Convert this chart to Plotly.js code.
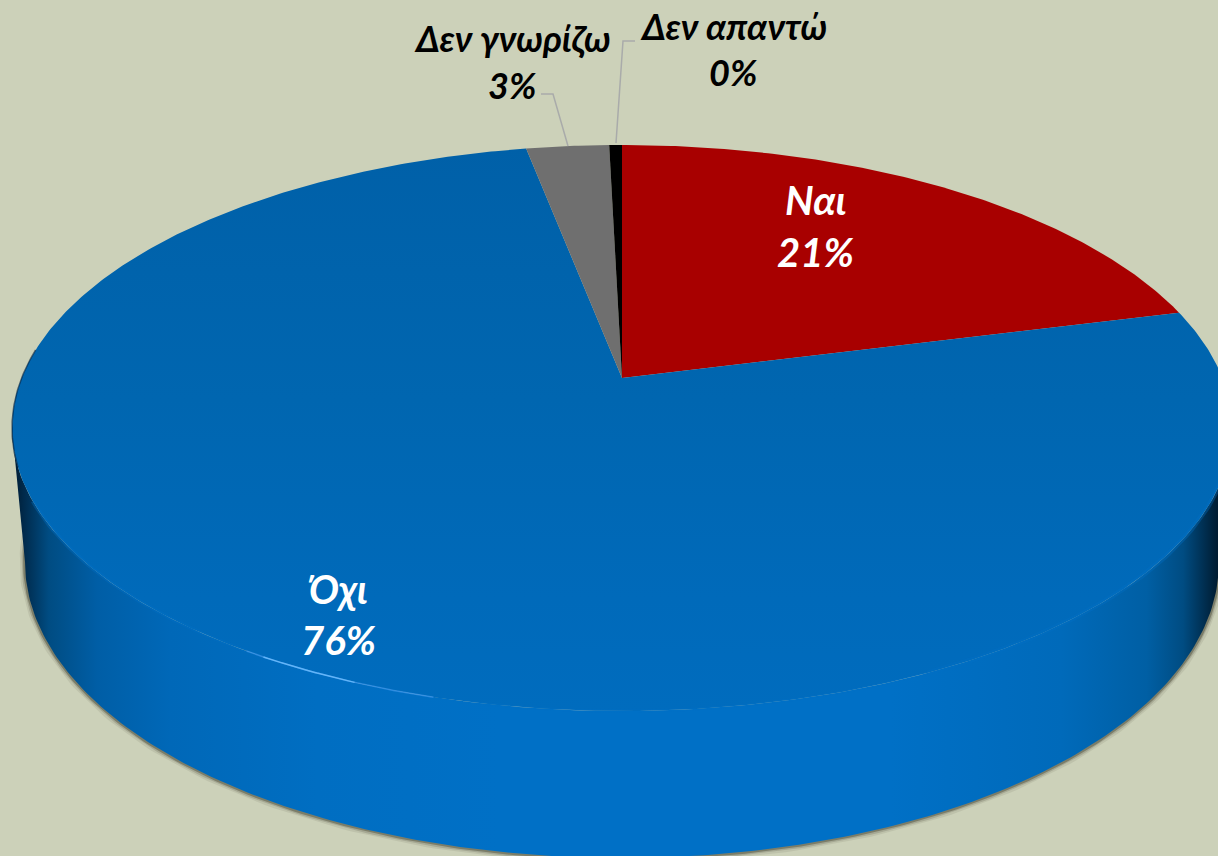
<!DOCTYPE html>
<html><head><meta charset="utf-8">
<script src="https://cdn.plot.ly/plotly-3.0.1.min.js"></script>
<style>html,body{margin:0;padding:0;background:#CCD1B9;overflow:hidden}#c{width:1218px;height:856px}</style>
</head><body><div id="c"></div>
<script>
const categories = ['Ναι', 'Όχι', 'Δεν γνωρίζω', 'Δεν απαντώ'];
const values = [21, 76, 2.6, 0.4];
const percentLabels = ['21%', '76%', '3%', '0%'];
const sliceColors = ['#A80000', null, '#6F6F6F', '#000000'];

const W = 1218, H = 856, BG = '#CCD1B9';
const top3d = {cx: 622, cy: 428, rx: 610, ry: 283};
const base3d = {cx: 622, cy: 562, rx: 597, ry: 296};
const tilt = 50 / 283; // how far the apex sits above the ellipse centre, in radii
const FONT = 'Lato, "Open Sans", "Noto Sans", sans-serif';

const total = values.reduce((a, b) => a + b, 0);
function rim(frac) { // perspective projection of a point on the pie's rim
  const a = frac * 2 * Math.PI, x = Math.sin(a), y = Math.cos(a);
  const d = 1 + tilt * y, s = Math.sqrt(1 - tilt * tilt);
  return [top3d.cx + top3d.rx * x * s / d, top3d.cy - top3d.ry * (y + tilt) / d];
}
const apex = [top3d.cx, top3d.cy - tilt * top3d.ry];
function arc(e, t0, t1, n) {
  const xs = [], ys = [];
  for (let i = 0; i <= n; i++) {
    const t = (t0 + (t1 - t0) * i / n) * Math.PI / 180;
    xs.push(e.cx + e.rx * Math.cos(t)); ys.push(e.cy + e.ry * Math.sin(t));
  }
  return [xs, ys];
}
const traces = [];
const base = {mode: 'lines', hoverinfo: 'skip', showlegend: false};

// soft shadow under the wall
[[11, 'rgba(90,90,75,0.12)'], [7, 'rgba(90,90,75,0.25)'], [4, 'rgba(90,90,70,0.55)']].forEach(([w, c]) => {
  const [x, y] = arc(base3d, -5, 185, 240);
  traces.push({...base, x, y, line: {color: c, width: w}});
});

// side wall
const [tx, ty] = arc(top3d, 0, 180, 240);
const [bx, by] = arc(base3d, 180, 0, 240);
traces.push({...base, x: tx.concat(bx), y: ty.concat(by), fill: 'toself', line: {width: 0, color: 'rgba(0,0,0,0)'},
  fillgradient: {type: 'horizontal', start: 12, stop: 1232, colorscale: [
    [0, '#001A30'], [0.012, '#002E52'], [0.03, '#004C82'], [0.07, '#005EA6'], [0.13, '#0068B8'], [0.25, '#006EC2'], [0.4, '#0070C6'],
    [0.72, '#0070C6'], [0.86, '#006ABA'], [0.93, '#005FA4'], [0.96, '#004C82'], [0.985, '#00213A'], [1, '#000A14']]}});

// top face slices
let cum = 0;
values.forEach((v, i) => {
  const f0 = cum / total, f1 = (cum + v) / total; cum += v;
  const n = Math.max(4, Math.round((f1 - f0) * 720));
  const xs = [apex[0]], ys = [apex[1]];
  for (let j = 0; j <= n; j++) { const p = rim(f0 + (f1 - f0) * j / n); xs.push(p[0]); ys.push(p[1]); }
  xs.push(apex[0]); ys.push(apex[1]);
  const t = {...base, name: categories[i], x: xs, y: ys, fill: 'toself', line: {width: 0, color: 'rgba(0,0,0,0)'}};
  if (sliceColors[i]) t.fillcolor = sliceColors[i];
  else t.fillgradient = {type: 'vertical', start: 145, stop: 712, colorscale: [[0, '#0060A8'], [0.45, '#0066B0'], [0.8, '#006ABA'], [1, '#006CBE']]};
  traces.push(t);
});

// rim highlights and the dark outer edge
[[[8, 60], 5, 'rgba(0,112,198,0.35)'], [[60, 105], 3, 'rgba(0,112,198,0.3)'], [[108, 128], 1.5, 'rgba(60,150,235,0.7)'],
 [[116, 126], 1.5, 'rgba(110,190,255,0.8)'], [[128, 165], 4, 'rgba(0,112,198,0.35)'],
 [[172, 196], 1.5, 'rgba(0,30,60,0.6)']].forEach(([r, w, c]) => {
  const [x, y] = arc(top3d, r[0], r[1], 60);
  traces.push({...base, x, y, line: {color: c, width: w}});
});

// leader lines
const leaderX = [[541, 553, 568], [635, 623, 616]], leaderY = [[94, 94, 146], [41, 41, 143]];
leaderX.forEach((x, i) => traces.push({...base, x, y: leaderY[i], line: {color: '#A9ABAA', width: 1.5}}));

// labels
const labelPos = [[815, 200, 252, 40, '#FFFFFF'], [338, 589, 640, 40, '#FFFFFF'], [512, 38, 85, 36, '#000000'], [733, 26, 72, 36, '#000000']];
const annotations = [];
labelPos.forEach((p, i) => {
  [[categories[i], p[1]], [percentLabels[i], p[2]]].forEach(([text, y]) => {
    annotations.push({x: p[0], y, xref: 'x', yref: 'y', text: '<b><i>' + text + '</i></b>', showarrow: false,
      xanchor: 'center', yanchor: 'middle', font: {family: FONT, size: p[3], color: p[4]}});
  });
});

const hidden = {visible: false, fixedrange: true};
Plotly.newPlot('c', traces, {
  width: W, height: H, margin: {l: 0, r: 0, t: 0, b: 0}, paper_bgcolor: BG, plot_bgcolor: BG, showlegend: false,
  xaxis: {...hidden, range: [0, W]}, yaxis: {...hidden, range: [H, 0]}, annotations
}, {displayModeBar: false, staticPlot: true});
</script></body></html>
